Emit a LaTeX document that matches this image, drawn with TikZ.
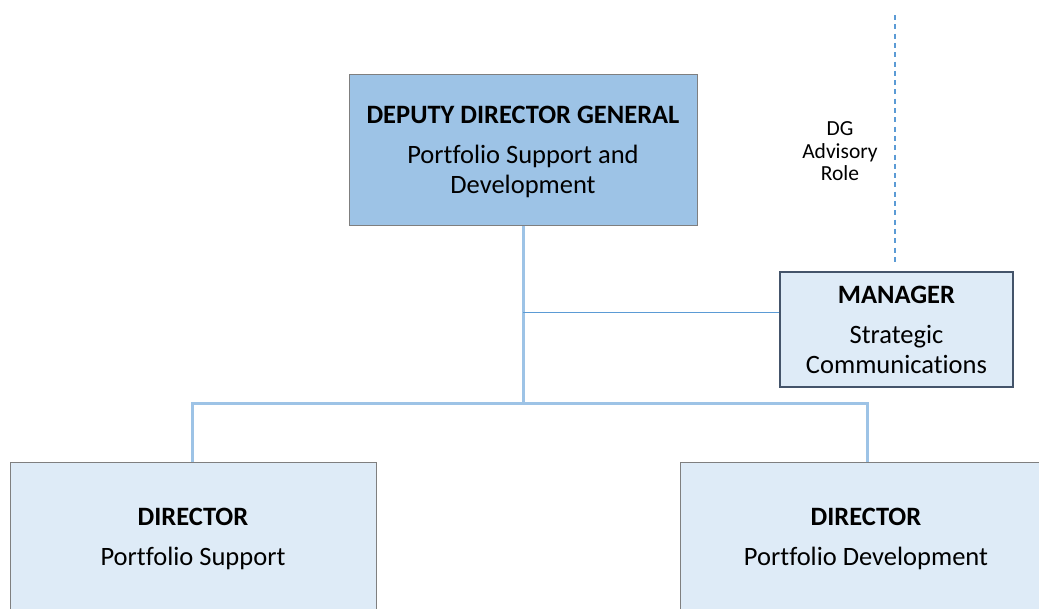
\documentclass[tikz,border=0pt]{standalone}
\usepackage{fontspec}
\setmainfont[Ligatures=NoCommon]{Carlito}
\definecolor{darkfill}{HTML}{9DC3E6}
\definecolor{lightfill}{HTML}{DEEBF7}
\definecolor{linecol}{HTML}{9DC3E6}
\definecolor{thinline}{HTML}{5B9BD5}
\definecolor{boxborder}{HTML}{7F7F7F}
\definecolor{mgrborder}{HTML}{44546A}
\tikzset{
  orgbox/.style={draw=boxborder, line width=1pt, rectangle, align=center, inner sep=0pt},
  conn/.style={draw=linecol, line width=3pt},
  thinconn/.style={draw=thinline, line width=1pt},
  advis/.style={draw=thinline, line width=1.2pt, dash pattern=on 5pt off 4.3pt},
  titlefont/.style={font=\fontsize{26.5}{30}\selectfont},
}
\begin{document}
\begin{tikzpicture}[x=1pt,y=-1pt]
\useasboundingbox (0,0) rectangle (1039,608);
\clip (0,0) rectangle (1039,608);
\node[orgbox, fill=darkfill, minimum width=348pt, minimum height=151pt, titlefont] (ddg) at (523,149.5)
  {\rule{0pt}{23pt}\textbf{DEPUTY DIRECTOR GENERAL}\\[10pt] Portfolio Support and\\ Development};
\node[orgbox, fill=lightfill, draw=mgrborder, line width=1.8pt, minimum width=233pt, minimum height=115pt, titlefont] (mgr) at (896.5,329.5)
  {\textbf{MANAGER}\\[10pt] Strategic\\ Communications};
\node[orgbox, fill=lightfill, minimum width=366pt, minimum height=154pt, titlefont] (dirl) at (193,539)
  {\textbf{DIRECTOR}\\[10pt] Portfolio Support};
\node[orgbox, fill=lightfill, minimum width=372pt, minimum height=154pt, titlefont] (dirr) at (866,539)
  {\textbf{DIRECTOR}\\[10pt] Portfolio Development};
\coordinate (hub) at (523,403);
\coordinate (mj) at (523,312);
\coordinate (hl) at (192,403);
\coordinate (hr) at (867,403);
\coordinate (dtop) at (895,15);
\coordinate (dbot) at (895,264);
\draw[conn] (ddg.south) -- (hub);
\draw[conn] (hl |- dirl.north) -- (hl) -- (hr) -- (hr |- dirr.north);
\draw[thinconn] (mj) -- (mj -| mgr.west);
\draw[advis] (dtop) -- (dbot);
\node[font=\fontsize{21.5}{22.5}\selectfont, align=center, inner sep=0pt] (adv) at (840,151.5) {DG\\ Advisory\\ Role};
\end{tikzpicture}
\end{document}
